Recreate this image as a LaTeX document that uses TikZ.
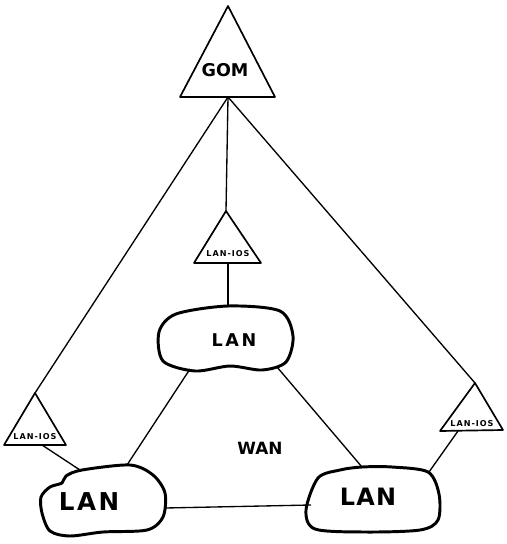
\documentclass[tikz,border=0pt]{standalone}
\usepackage{fontspec}
\setsansfont{DejaVu Sans}
\begin{document}
\begin{tikzpicture}[x=0.05cm,y=-0.05cm,
  wire/.style={line width=1.9pt},
  tri/.style={line width=2.4pt, line join=round},
  blob/.style={line width=4.2pt, line join=round},
  tag/.style={font=\sffamily\bfseries\fontsize{11.5}{11.5}\selectfont\addfontfeatures{LetterSpace=12}, inner sep=0pt},
  lanlabel/.style={font=\sffamily\bfseries\fontsize{25}{25}\selectfont\addfontfeatures{LetterSpace=15}, inner sep=0pt}]
\useasboundingbox (0,0) rectangle (507,544);
% GOM on top
\draw[tri] (228,6) -- (275,97) -- (180,97) -- cycle;
\coordinate (gom) at (228,97);
\node[lanlabel, font=\sffamily\bfseries\fontsize{25}{25}\selectfont] (gomlabel) at (225,70) {GOM};
% LAN-IOS triangles
\draw[tri] (226,211) coordinate (iosA) -- (261,263) -- (194,263) -- cycle;
\coordinate (iosAbase) at (228,263);
\node[tag] (iosAlabel) at (228,254) {LAN-IOS};
\draw[tri] (35,393) coordinate (iosB) -- (66,445) -- (4,445) -- cycle;
\coordinate (iosBbase) at (42,445);
\node[tag] (iosBlabel) at (35,437) {LAN-IOS};
\draw[tri] (475,383) coordinate (iosC) -- (503,430) -- (440,431) -- cycle;
\coordinate (iosCbase) at (458,431);
\node[tag] (iosClabel) at (472,424) {LAN-IOS};
% LAN clouds
\draw[blob] plot[smooth cycle] coordinates {(159,332) (176,314) (228,306) (280,311) (293,336) (286,362) (262,370) (230,366) (195,371) (163,361)};
\node[lanlabel] (lanA) at (234,340) {LAN};
\coordinate (lanAtop) at (228,307);
\coordinate (lanAsw) at (190,369);
\coordinate (lanAse) at (277,367);
\draw[blob] plot[smooth cycle] coordinates {(82,470) (130,465) (153,475) (165,493) (163,517) (147,530) (103,532) (70,536) (50,531) (42,513) (41,497) (50,487) (62,483) (66,476)};
\node[lanlabel, font=\sffamily\bfseries\fontsize{35}{35}\selectfont\addfontfeatures{LetterSpace=10}] (lanB) at (89,502) {LAN};
\coordinate (lanBnw) at (80,470);
\coordinate (lanBne) at (127,465);
\coordinate (lanBe) at (165,508);
\draw[blob] plot[smooth cycle] coordinates {(318,478) (340,470) (362,467) (392,467) (428,472) (439,494) (438,520) (420,530) (365,532) (315,529) (306,510)};
\node[lanlabel, font=\sffamily\bfseries\fontsize{34}{34}\selectfont\addfontfeatures{LetterSpace=5}] (lanC) at (368,497) {LAN};
\coordinate (lanCnw) at (362,467);
\coordinate (lanCne) at (429,472);
\coordinate (lanCw) at (311,505);
\node[lanlabel, font=\sffamily\bfseries\fontsize{24}{24}\selectfont] (wan) at (260,448) {WAN};
% connectors
\draw[wire] (gom) -- (iosA);
\draw[wire] (gom) -- (iosB);
\draw[wire] (gom) -- (iosC);
\draw[wire] (iosAbase) -- (lanAtop);
\draw[wire] (iosBbase) -- (lanBnw);
\draw[wire] (iosCbase) -- (lanCne);
\draw[wire] (lanAsw) -- (lanBne);
\draw[wire] (lanAse) -- (lanCnw);
\draw[wire] (lanBe) -- (lanCw);
\end{tikzpicture}
\end{document}
